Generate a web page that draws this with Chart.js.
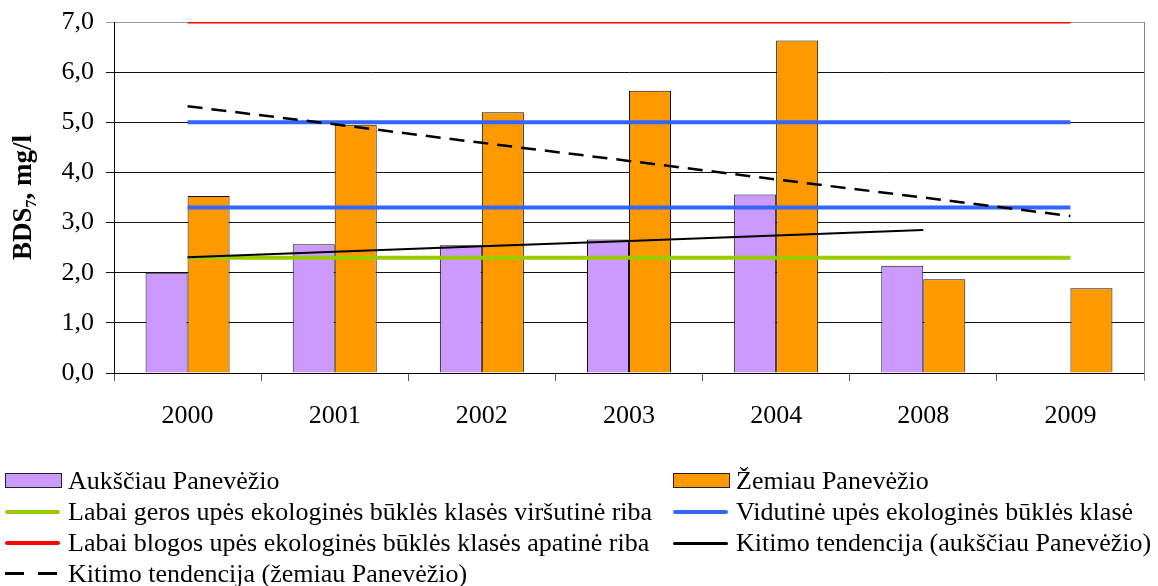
<!DOCTYPE html>
<html lang="lt">
<head>
    <meta charset="UTF-8">
    <title>BDS7 - Nevėžis ties Panevėžiu</title>
    <style>
        html, body { margin: 0; padding: 0; background: #fff; }
        #wrap { position: relative; width: 1158px; height: 586px; overflow: hidden; }
        #chartBox { position: absolute; left: 0; top: 0; width: 1158px; height: 440px; }
        #legend { position: absolute; left: 0; top: 0; width: 1158px; height: 586px; pointer-events: none; }
        .item { position: absolute; height: 31px; font-family: 'Liberation Serif', 'Times New Roman', serif;
                font-size: 26px; line-height: 31px; color: #000; white-space: nowrap; }
        .sym { position: absolute; left: 0; width: 55px; }
        .txt { position: absolute; left: 63px; top: 0; }
    </style>
</head>
<body>
<div id="wrap">
    <div id="chartBox"><canvas id="myChart" width="1158" height="440"></canvas></div>
    <div id="legend"></div>
</div>

<script src="https://cdn.jsdelivr.net/npm/chart.js"></script>
<script>
    // data
    var years = ['2000', '2001', '2002', '2003', '2004', '2008', '2009'];
    var aukstiau = [2.0, 2.57, 2.55, 2.66, 3.56, 2.14, null];
    var zemiau = [3.53, 4.95, 5.2, 5.63, 6.63, 1.87, 1.69];
    var geraRiba = [2.3, 2.3, 2.3, 2.3, 2.3, 2.3, 2.3];
    var vidutineVirs = [5.0, 5.0, 5.0, 5.0, 5.0, 5.0, 5.0];
    var vidutineApac = [3.3, 3.3, 3.3, 3.3, 3.3, 3.3, 3.3];
    var blogaRiba = [7.0, 7.0, 7.0, 7.0, 7.0, 7.0, 7.0];
    var trendAuk = [2.31, 2.42, 2.53, 2.63, 2.74, 2.85, null];
    var trendZem = [5.32, 4.96, 4.59, 4.23, 3.86, 3.50, 3.13];
    var yTicks = [0, 1, 2, 3, 4, 5, 6, 7];

    var serif = "'Liberation Serif', 'Times New Roman', serif";

    // legend entries: [label, kind, colour, column, row]
    var legendItems = [
        ['Aukščiau Panevėžio', 'box', '#cc99ff', 0, 0],
        ['Žemiau Panevėžio', 'box', '#ff9900', 1, 0],
        ['Labai geros upės ekologinės būklės klasės viršutinė riba', 'line', '#99cc00', 0, 1],
        ['Vidutinė upės ekologinės būklės klasė', 'line', '#3366ff', 1, 1],
        ['Labai blogos upės ekologinės būklės klasės apatinė riba', 'line', '#ff0000', 0, 2],
        ['Kitimo tendencija (aukščiau Panevėžio)', 'thin', '#000000', 1, 2],
        ['Kitimo tendencija (žemiau Panevėžio)', 'dash', '#000000', 0, 3]
    ];

    function lineSet(label, data, color, width, dash) {
        return {
            type: 'line',
            label: label,
            data: data,
            borderColor: color,
            backgroundColor: color,
            borderWidth: width,
            borderDash: dash || [],
            pointRadius: 0,
            fill: false,
            tension: 0,
            spanGaps: false,
            order: 0
        };
    }

    // gray frame on the right side of the plot
    var frame = {
        id: 'frame',
        beforeDatasetsDraw: function(chart) {
            var a = chart.chartArea, ctx = chart.ctx;
            ctx.save();
            ctx.strokeStyle = '#888';
            ctx.lineWidth = 1;
            ctx.beginPath();
            ctx.moveTo(a.right + 0.5, a.top);
            ctx.lineTo(a.right + 0.5, a.bottom + 8);
            ctx.stroke();
            ctx.restore();
        }
    };

    var ctx = document.getElementById('myChart').getContext('2d');
    var chart = new Chart(ctx, {
        type: 'bar',
        data: {
            labels: years,
            datasets: [
                lineSet('Kitimo tendencija (aukščiau Panevėžio)', trendAuk, '#000', 2),
                lineSet('Kitimo tendencija (žemiau Panevėžio)', trendZem, '#000', 2.5, [15, 9]),
                lineSet('Labai blogos upės ekologinės būklės klasės apatinė riba', blogaRiba, '#ff0000', 3),
                lineSet('Vidutinė upės ekologinės būklės klasė', vidutineVirs, '#3366ff', 4),
                lineSet('Vidutinė upės ekologinės būklės klasė (apatinė)', vidutineApac, '#3366ff', 4),
                lineSet('Labai geros upės ekologinės būklės klasės viršutinė riba', geraRiba, '#99cc00', 4),
                {
                    label: 'Aukščiau Panevėžio',
                    data: aukstiau,
                    backgroundColor: '#cc99ff',
                    borderColor: '#111',
                    borderWidth: 1,
                    order: 1
                },
                {
                    label: 'Žemiau Panevėžio',
                    data: zemiau,
                    backgroundColor: '#ff9900',
                    borderColor: '#111',
                    borderWidth: 1,
                    order: 1
                }
            ]
        },
        options: {
            responsive: false,
            animation: false,
            layout: { padding: { left: 0, right: 14, top: 22, bottom: 0 } },
            datasets: { bar: { barPercentage: 1.0, categoryPercentage: 0.571 } },
            plugins: {
                legend: { display: false },
                tooltip: { enabled: false }
            },
            scales: {
                x: {
                    offset: true,
                    grid: {
                        offset: true,
                        drawOnChartArea: false,
                        drawTicks: true,
                        tickLength: 8,
                        color: '#555'
                    },
                    border: { color: '#000', width: 1 },
                    ticks: {
                        color: '#000',
                        padding: 20,
                        maxRotation: 0,
                        font: { family: serif, size: 26 }
                    },
                    afterFit: function(scale) { scale.height = 67; }
                },
                y: {
                    min: 0,
                    max: 7,
                    afterBuildTicks: function(scale) {
                        scale.ticks = yTicks.map(function(v) { return { value: v }; });
                    },
                    grid: {
                        color: function(c) { return c.tick && c.tick.value === 7 ? '#999' : '#111'; },
                        lineWidth: 1,
                        tickLength: 8
                    },
                    border: { color: '#000', width: 1 },
                    ticks: {
                        color: '#000',
                        padding: 12,
                        font: { family: serif, size: 26 },
                        callback: function(v) { return v.toFixed(1).replace('.', ','); }
                    },
                    title: {
                        display: true,
                        text: 'BDS₇, mg/l',
                        color: '#000',
                        padding: { top: 8, bottom: 0 },
                        font: { family: serif, size: 27, weight: 'bold' }
                    },
                    afterFit: function(scale) {
                        scale.width = 114;
                        scale.paddingTop = 0;
                        scale.paddingBottom = 0;
                    }
                }
            }
        },
        plugins: [frame]
    });

    // legend in two columns under the plot
    var legend = document.getElementById('legend');
    legendItems.forEach(function(it) {
        var div = document.createElement('div');
        div.className = 'item';
        div.style.left = (5 + it[3] * 668) + 'px';
        div.style.top = (465 + it[4] * 31) + 'px';

        var sym = document.createElement('div');
        sym.className = 'sym';
        if (it[1] === 'box') {
            sym.style.top = '8px';
            sym.style.height = '13px';
            sym.style.background = it[2];
            sym.style.border = '1px solid #222';
        } else if (it[1] === 'dash') {
            sym.style.top = '14px';
            sym.style.height = '3px';
            sym.style.background = 'repeating-linear-gradient(to right, #000 0 19px, transparent 19px 33px)';
        } else {
            var h = it[1] === 'thin' ? 3 : 4;
            sym.style.top = (16 - h / 2) + 'px';
            sym.style.height = h + 'px';
            sym.style.background = it[2];
            sym.style.borderRadius = '2px';
        }
        div.appendChild(sym);

        var txt = document.createElement('span');
        txt.className = 'txt';
        txt.textContent = it[0];
        div.appendChild(txt);
        legend.appendChild(div);
    });
</script>
</body>
</html>
